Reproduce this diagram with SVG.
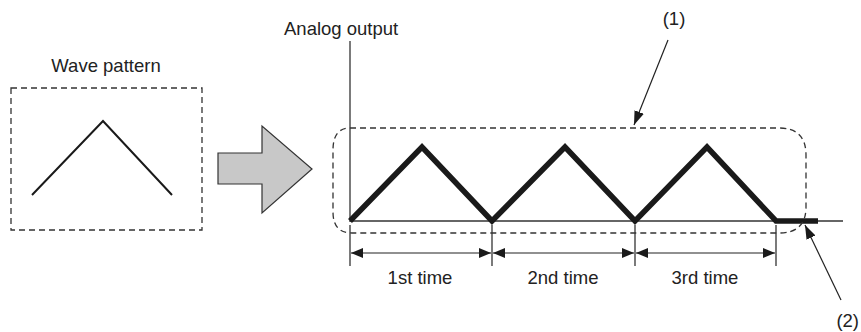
<svg xmlns="http://www.w3.org/2000/svg" width="861" height="332" viewBox="0 0 861 332">
<defs>
<style>
text{font-family:"Liberation Sans",Arial,sans-serif;font-size:18.5px;fill:#222}
.dash{fill:none;stroke:#333;stroke-width:1.3;stroke-dasharray:6,4}
.thin{fill:none;stroke:#333;stroke-width:1.3}
.wave{fill:none;stroke:#1a1a1a;stroke-width:5.5;stroke-linejoin:miter}
.lead{fill:none;stroke:#222;stroke-width:1.2}
</style>
<marker id="ah" viewBox="0 0 12 10" refX="12" refY="5" markerWidth="12" markerHeight="10" markerUnits="userSpaceOnUse" orient="auto-start-reverse">
<path d="M0,0 L12,5 L0,10 Z" fill="#1a1a1a"/>
</marker>
<marker id="la" viewBox="0 0 14 10" refX="14" refY="5" markerWidth="14" markerHeight="10" markerUnits="userSpaceOnUse" orient="auto">
<path d="M0,0 L14,5 L0,10 Z" fill="#1a1a1a"/>
</marker>
</defs>
<g id="wave-pattern">
<text x="106" y="72" text-anchor="middle">Wave pattern</text>
<rect x="11" y="88" width="191" height="142" class="dash"/>
<polyline points="32,195 103,121 172,195" fill="none" stroke="#1a1a1a" stroke-width="2"/>
</g>
<g id="block-arrow">
<path d="M218,153 H262 V126 L312,169 L262,213 V184 H218 Z" fill="#c8c8c8" stroke="#333" stroke-width="1.2"/>
</g>
<g id="graph">
<text x="284" y="35">Analog output</text>
<line x1="350" y1="41" x2="350" y2="222" class="thin"/>
<line x1="350" y1="221" x2="843" y2="221" class="thin"/>
<polyline points="350,221 422,147 492,221 565,147 635,221 707,147 776,221 818,221" class="wave"/>
</g>
<g id="region-1">
<path d="M350,128 H779 Q806,128 806,155 V207 Q806,233 779,233 H352 Q333,233 333,212 V150 Q333,128 350,128 Z" class="dash"/>
<text x="674" y="25" text-anchor="middle">(1)</text>
</g>
<g id="label-2">
<text x="859" y="327" text-anchor="end">(2)</text>
</g>
<g id="dimensions">
<line x1="350" y1="225" x2="350" y2="266" class="thin"/>
<line x1="492" y1="225" x2="492" y2="266" class="thin"/>
<line x1="635" y1="225" x2="635" y2="266" class="thin"/>
<line x1="776" y1="225" x2="776" y2="266" class="thin"/>
<text x="420" y="284" text-anchor="middle">1st time</text>
<text x="563" y="284" text-anchor="middle">2nd time</text>
<text x="705" y="284" text-anchor="middle">3rd time</text>
</g>
<g id="connectors">
<line x1="351" y1="253" x2="491" y2="253" class="lead" marker-start="url(#ah)" marker-end="url(#ah)"/>
<line x1="493" y1="253" x2="634" y2="253" class="lead" marker-start="url(#ah)" marker-end="url(#ah)"/>
<line x1="636" y1="253" x2="775" y2="253" class="lead" marker-start="url(#ah)" marker-end="url(#ah)"/>
<line x1="668" y1="40" x2="634" y2="125" class="lead" marker-end="url(#la)"/>
<line x1="841" y1="300" x2="805" y2="225" class="lead" marker-end="url(#la)"/>
</g>
</svg>
